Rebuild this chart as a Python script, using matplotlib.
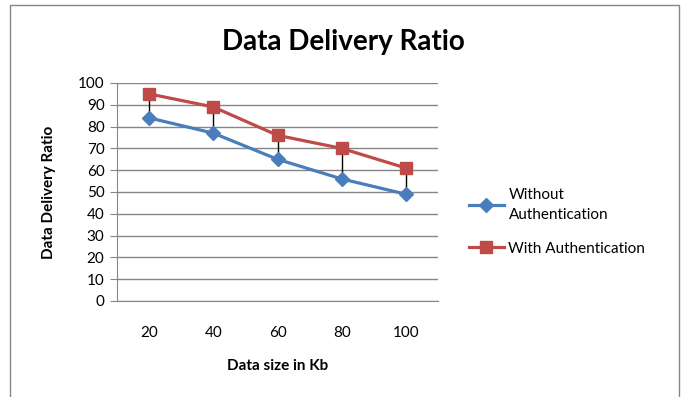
import numpy as np
import matplotlib
matplotlib.use('Agg')
import matplotlib.pyplot as plt
from matplotlib.patches import Rectangle

# Daten
sizes = ["20", "40", "60", "80", "100"]
without_auth = [84, 77, 65, 56, 49]
with_auth = [95, 89, 76, 70, 61]

plt.rcParams['font.family'] = ['Lato', 'DejaVu Sans']

fig = plt.figure(figsize=(6.86, 3.97), dpi=100)
# Rahmen um das Diagramm
fig.patches.append(Rectangle((10/686, -0.05), 669/686, 1 - 5/397 + 0.05,
                             transform=fig.transFigure, fill=False,
                             edgecolor='#868686', lw=1))

ax = fig.add_axes([117/686, 1 - 301/397, 321/686, 218/397])
x = np.arange(len(sizes)) + 0.5

ax.vlines(x, without_auth, with_auth, color='black', lw=1, zorder=2)
ax.plot(x, without_auth, color='#4A7EBB', lw=2.3, marker='D', ms=7,
        label='Without\nAuthentication', zorder=3)
ax.plot(x, with_auth, color='#BE4B48', lw=2.3, marker='s', ms=9,
        label='With Authentication', zorder=4)

ax.set_xlim(0, len(sizes))
ax.set_ylim(0, 100)
ax.set_yticks(range(0, 101, 10))
ax.set_xticks(x)
ax.set_xticklabels(sizes)
ax.grid(axis='y', color='#868686', lw=1)
ax.set_axisbelow(True)
for s in ['top', 'right']:
    ax.spines[s].set_visible(False)
ax.spines['left'].set_color('#868686')
ax.spines['bottom'].set_color('#868686')
ax.tick_params(axis='y', length=5, color='#868686', labelsize=11, pad=4)
ax.tick_params(axis='x', length=0, labelsize=11, pad=18)

ax.set_xlabel("Data size in Kb", fontsize=11, fontweight='bold', labelpad=14)
ax.set_ylabel("Data Delivery Ratio", fontsize=11, fontweight='bold', labelpad=16)
fig.text(343/686, 1 - 42/397, "Data Delivery Ratio", ha='center', va='center',
         fontsize=20, fontweight='bold')

leg = fig.legend(loc='center left', bbox_to_anchor=(455/686, 1 - 222/397),
                 frameon=False, fontsize=11, handlelength=2.3, labelspacing=1.3,
                 handletextpad=0.3)
for t in leg.get_texts():
    t.set_linespacing(1.5)

fig.savefig("out.png", dpi=100)
